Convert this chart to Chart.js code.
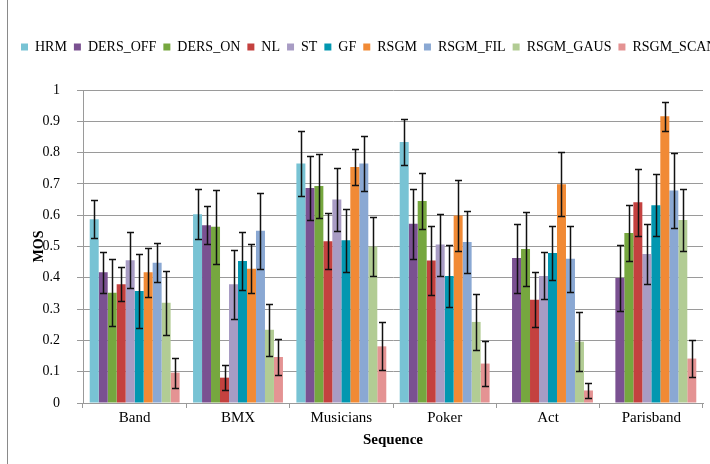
<!DOCTYPE html>
<html>
<head>
<meta charset="utf-8">
<script src="https://cdn.jsdelivr.net/npm/chart.js@4/dist/chart.umd.min.js"></script>
<style>
  html, body { margin: 0; padding: 0; background: #fff; overflow: hidden; }
  #wrap { width: 710px; height: 464px; position: relative; }
</style>
</head>
<body>
<div id="wrap"><canvas id="c" width="710" height="464"></canvas></div>
<script>
// Sequences on the x axis
const categories = ['Band', 'BMX', 'Musicians', 'Poker', 'Act', 'Parisband'];

// Mean opinion scores per method, with the half-width of each error bar
const hrm         = [0.587, 0.603, 0.765, 0.834, null, null];
const hrmErr      = [0.060, 0.080, 0.103, 0.074, null, null];
const dersOff     = [0.418, 0.568, 0.687, 0.573, 0.463, 0.399];
const dersOffErr  = [0.065, 0.060, 0.103, 0.112, 0.110, 0.106];
const dersOn      = [0.352, 0.563, 0.693, 0.645, 0.492, 0.543];
const dersOnErr   = [0.107, 0.118, 0.102, 0.090, 0.118, 0.089];
const nl          = [0.379, 0.081, 0.517, 0.455, 0.330, 0.641];
const nlErr       = [0.054, 0.040, 0.090, 0.110, 0.088, 0.108];
const st          = [0.456, 0.379, 0.650, 0.506, 0.406, 0.476];
const stErr       = [0.089, 0.110, 0.100, 0.099, 0.075, 0.096];
const gf          = [0.358, 0.454, 0.520, 0.406, 0.479, 0.632];
const gfErr       = [0.118, 0.092, 0.100, 0.099, 0.087, 0.100];
const rsgm        = [0.418, 0.429, 0.754, 0.599, 0.699, 0.916];
const rsgmErr     = [0.078, 0.078, 0.059, 0.113, 0.103, 0.047];
const rsgmFil     = [0.448, 0.550, 0.765, 0.514, 0.461, 0.679];
const rsgmFilErr  = [0.062, 0.121, 0.087, 0.099, 0.105, 0.120];
const rsgmGaus    = [0.320, 0.234, 0.500, 0.259, 0.196, 0.585];
const rsgmGausErr = [0.102, 0.083, 0.093, 0.089, 0.095, 0.098];
const rsgmScan    = [0.097, 0.147, 0.181, 0.126, 0.040, 0.142];
const rsgmScanErr = [0.048, 0.058, 0.077, 0.071, 0.025, 0.060];

// Y axis tick labels
const yTicks = ['0', '0.1', '0.2', '0.3', '0.4', '0.5', '0.6', '0.7', '0.8', '0.9', '1'];

const seriesNames = ['HRM', 'DERS_OFF', 'DERS_ON', 'NL', 'ST', 'GF', 'RSGM', 'RSGM_FIL', 'RSGM_GAUS', 'RSGM_SCAN'];
const seriesValues = [hrm, dersOff, dersOn, nl, st, gf, rsgm, rsgmFil, rsgmGaus, rsgmScan];
const seriesErrors = [hrmErr, dersOffErr, dersOnErr, nlErr, stErr, gfErr, rsgmErr, rsgmFilErr, rsgmGausErr, rsgmScanErr];
const seriesColors = ['#78C3D4', '#7A5191', '#76A73F', '#C4413F', '#A89CC4', '#0297B0', '#F18A35', '#8AA8D3', '#B2CC94', '#E49393'];

const FONT = '"Liberation Serif", "Times New Roman", serif';
const GRID = '#9a9a9a';

// Whiskers drawn from the bar elements and the value scale
const errorBars = {
  id: 'errorBars',
  afterDatasetsDraw(chart) {
    const ctx = chart.ctx;
    const y = chart.scales.y;
    ctx.save();
    ctx.strokeStyle = '#111';
    ctx.lineWidth = 1.5;
    chart.data.datasets.forEach((ds, i) => {
      const meta = chart.getDatasetMeta(i);
      if (meta.hidden) return;
      meta.data.forEach((bar, j) => {
        const v = ds.data[j];
        const e = ds.errors[j];
        if (v == null || e == null) return;
        const x = Math.round(bar.x) + 0.5;
        const yt = Math.round(y.getPixelForValue(v + e)) + 0.5;
        const yb = Math.round(y.getPixelForValue(v - e)) + 0.5;
        const cap = 3.5;
        ctx.beginPath();
        ctx.moveTo(x, yt); ctx.lineTo(x, yb);
        ctx.moveTo(x - cap, yt); ctx.lineTo(x + cap, yt);
        ctx.moveTo(x - cap, yb); ctx.lineTo(x + cap, yb);
        ctx.stroke();
      });
    });
    ctx.restore();
  }
};

// Outer chart frame and a single-row legend that may run past the right edge
const frame = {
  id: 'frame',
  beforeInit(chart) {
    const legend = chart.legend;
    const fit = legend.fit;
    const draw = legend.draw;
    legend.fit = function () {
      const mw = this.maxWidth;
      this.maxWidth = 3000;
      fit.call(this);
      this.maxWidth = mw;
      this.width = mw;
      this.height = 57;
    };
    legend.draw = function () {
      const r = this.right, w = this.width;
      this.right = this.left + 3000;
      this.width = 3000;
      draw.call(this);
      this.right = r;
      this.width = w;
    };
  },
  beforeDraw(chart) {
    const ctx = chart.ctx;
    ctx.save();
    ctx.fillStyle = '#fff';
    ctx.fillRect(0, 0, chart.width, chart.height);
    ctx.strokeStyle = '#8a8a8a';
    ctx.lineWidth = 1;
    ctx.beginPath();
    ctx.moveTo(7.5, 0);
    ctx.lineTo(7.5, chart.height);
    ctx.stroke();
    ctx.restore();
  }
};

new Chart(document.getElementById('c'), {
  type: 'bar',
  data: {
    labels: categories,
    datasets: seriesNames.map((name, i) => ({
      label: name,
      data: seriesValues[i],
      errors: seriesErrors[i],
      backgroundColor: seriesColors[i],
      borderWidth: 0,
      categoryPercentage: 0.87,
      barPercentage: 1.0
    }))
  },
  options: {
    responsive: false,
    animation: false,
    devicePixelRatio: 1,
    layout: { padding: { left: 14, right: 7, top: 33, bottom: 0 } },
    plugins: {
      tooltip: { enabled: false },
      legend: {
        position: 'top',
        align: 'start',
        labels: {
          boxWidth: 7,
          boxHeight: 7,
          padding: 7,
          color: '#000',
          font: { family: FONT, size: 14 }
        }
      }
    },
    scales: {
      x: {
        grid: {
          offset: true,
          drawOnChartArea: false,
          drawTicks: true,
          tickLength: 5,
          color: GRID
        },
        border: { color: GRID, width: 1 },
        ticks: {
          color: '#000',
          padding: 1,
          font: { family: FONT, size: 15 }
        },
        title: {
          display: true,
          text: 'Sequence',
          color: '#000',
          padding: { top: 0, bottom: 15 },
          font: { family: FONT, size: 15, weight: 'bold' }
        },
        afterFit(scale) { scale.height = 61; }
      },
      y: {
        min: 0,
        max: 1,
        grid: {
          color: GRID,
          lineWidth: 1,
          drawTicks: true,
          tickLength: 6
        },
        border: { color: GRID, width: 1 },
        ticks: {
          stepSize: 0.1,
          color: '#000',
          padding: 17,
          font: { family: FONT, size: 14 },
          callback: (v, i) => yTicks[i]
        },
        title: {
          display: true,
          text: 'MOS',
          color: '#000',
          padding: { top: 17, bottom: 0 },
          font: { family: FONT, size: 14, weight: 'bold' }
        },
        afterFit(scale) { scale.width = 69; }
      }
    }
  },
  plugins: [frame, errorBars]
});
</script>
</body>
</html>
